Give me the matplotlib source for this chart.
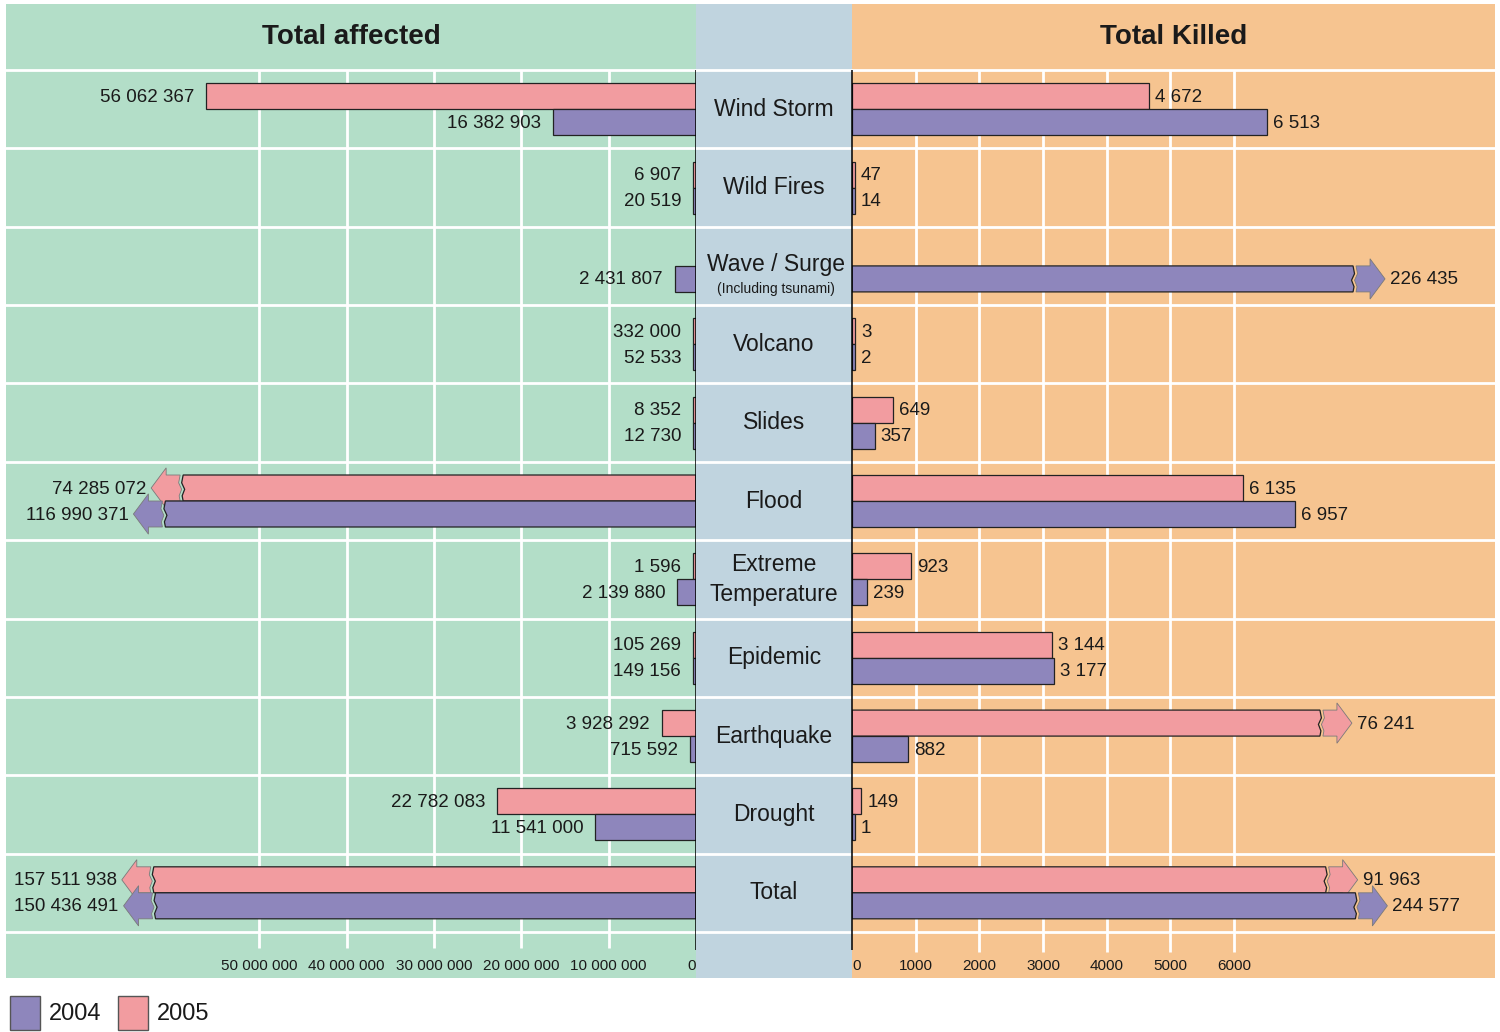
import numpy as np
import matplotlib
matplotlib.use('Agg')
import matplotlib.pyplot as plt
from matplotlib.patches import Polygon, Rectangle

# data (None = no value reported)
categories = ['Wind Storm', 'Wild Fires', 'Wave / Surge', 'Volcano', 'Slides', 'Flood',
              'Extreme\nTemperature', 'Epidemic', 'Earthquake', 'Drought', 'Total']
affected_2005 = [56062367, 6907, None, 332000, 8352, 74285072, 1596, 105269, 3928292, 22782083, 157511938]
affected_2004 = [16382903, 20519, 2431807, 52533, 12730, 116990371, 2139880, 149156, 715592, 11541000, 150436491]
killed_2005 = [4672, 47, None, 3, 649, 6135, 923, 3144, 76241, 149, 91963]
killed_2004 = [6513, 14, 226435, 2, 357, 6957, 239, 3177, 882, 1, 244577]

left_ticks = [10000000, 20000000, 30000000, 40000000, 50000000]
right_ticks = [1000, 2000, 3000, 4000, 5000, 6000]

plt.rcParams['font.family'] = ['Liberation Sans Narrow', 'DejaVu Sans Condensed',
                               'Liberation Sans', 'DejaVu Sans']

GREEN = '#b3dec8'
MID = '#c0d4df'
ORANGE = '#f6c490'
PINK = '#f29ca0'
PURPLE = '#8e86bc'
TXT = '#1a1a1a'

W, H = 1500, 1032
fig = plt.figure(figsize=(15, 10.32), dpi=100)

ROW_PX = (932 - 70) / 11.0
N = len(categories)
YTOP = -66 / ROW_PX
YBOT = N + 46 / ROW_PX
BH = 26 / ROW_PX


def px_axes(x0, x1, y0=4, y1=978):
    return fig.add_axes([x0 / W, 1 - y1 / H, (x1 - x0) / W, (y1 - y0) / H])


def fmt(v):
    return f'{v:,}'.replace(',', ' ')


ax_l = px_axes(6, 696)
ax_m = px_axes(696, 852)
ax_r = px_axes(852, 1495)

ax_l.set_xlim(79e6, 0)
ax_m.set_xlim(0, 1)
ax_r.set_xlim(0, 10100)

for ax, col in [(ax_l, GREEN), (ax_m, MID), (ax_r, ORANGE)]:
    ax.set_facecolor(col)
    ax.set_ylim(YBOT, YTOP)
    for s in ax.spines.values():
        s.set_visible(False)
    ax.set_xticks([])
    ax.set_yticks([])
    for i in range(N + 1):
        ax.axhline(i, color='white', lw=2, zorder=1)

ax_l.vlines(left_ticks, 0, 11.2, color='white', lw=2, zorder=1)
ax_r.vlines(right_ticks, 0, 11.25, color='white', lw=2, zorder=1)
# black borders of the middle band
ax_l.vlines([0], 0, 11.23, color='black', lw=1.1, zorder=6, clip_on=False)
ax_r.vlines([0], 0, 11.23, color='black', lw=1.1, zorder=6, clip_on=False)


def draw_side(ax, values, color, upper, npx, clip, side):
    ux = (ax.get_xlim()[0] + ax.get_xlim()[1]) / npx  # data units per pixel
    ha = 'right' if side == 'left' else 'left'
    gap = 12 if side == 'left' else 6
    for i, v in enumerate(values):
        if v is None:
            continue
        y0 = i + 0.5 - BH if upper else i + 0.5
        yc = y0 + BH / 2
        if v > clip['limit']:
            # bar too long: break it and add an arrow
            d = clip['start'] + clip['k'] * np.log10(v / clip['ref'])
            fy = np.array([0, 0.3, 0.55, 0.8, 1.0])
            fx = np.array([0, 1.5, -1.5, 1.0, 0]) * ux
            wave_y = y0 + fy * BH
            bar = [(0, y0)] + [(d + dx, yy) for dx, yy in zip(fx, wave_y)] + [(0, y0 + BH)]
            ax.add_patch(Polygon(bar, closed=True, fc=color, ec='#222222', lw=0.9, zorder=3))
            xs = d + 3 * ux
            xb = xs + 14 * ux
            tip = xs + 29 * ux
            hh = BH * 1.55
            arrow = [(xs + dx, yy) for dx, yy in zip(fx, wave_y)][::-1]
            arrow += [(xb, y0), (xb, yc - hh / 2), (tip, yc), (xb, yc + hh / 2), (xb, y0 + BH)]
            ax.add_patch(Polygon(arrow, closed=True, fc=color, ec='#7a7a7a', lw=0.6, zorder=3))
            lx = tip + 5 * ux
        else:
            d = max(v, 3 * ux)
            ax.add_patch(Rectangle((0, y0), d, BH, fc=color, ec='#222222', lw=0.9, zorder=3))
            lx = d + gap * ux
        ax.text(lx, yc + 1 / ROW_PX, fmt(v), ha=ha, va='center', fontsize=13.5, color=TXT, zorder=4)


clip_l = {'limit': 70e6, 'ref': 74e6, 'start': 58.7e6, 'k': 10.3e6}
clip_r = {'limit': 9000, 'ref': 76241, 'start': 7350, 'k': 1100}

draw_side(ax_l, affected_2005, PINK, True, 690, clip_l, 'left')
draw_side(ax_l, affected_2004, PURPLE, False, 690, clip_l, 'left')
draw_side(ax_r, killed_2005, PINK, True, 643, clip_r, 'right')
draw_side(ax_r, killed_2004, PURPLE, False, 643, clip_r, 'right')

# category names
for i, name in enumerate(categories):
    if name.startswith('Wave'):
        ax_m.text(0.51, i + 0.48, name, ha='center', va='center', fontsize=16.5, color=TXT)
        ax_m.text(0.51, i + 0.8, '(Including tsunami)', ha='center', va='center', fontsize=10,
                  color=TXT)
    else:
        ax_m.text(0.5, i + 0.5, name, ha='center', va='center', fontsize=16.5, color=TXT,
                  linespacing=1.4)

# titles
ty_title = -(70 - 37) / ROW_PX
ax_l.text(np.mean(ax_l.get_xlim()), ty_title, 'Total affected', ha='center', va='center',
          fontsize=20, fontweight='bold', color=TXT)
ax_r.text(np.mean(ax_r.get_xlim()), ty_title, 'Total Killed', ha='center', va='center',
          fontsize=20, fontweight='bold', color=TXT)

# tick labels
ty = N + 34 / ROW_PX
for t in left_ticks:
    ax_l.text(t, ty, fmt(t), ha='center', va='center', fontsize=11, color=TXT)
ax_l.text(0, ty, '0', ha='right', va='center', fontsize=11, color=TXT)
for t in right_ticks:
    ax_r.text(t, ty, str(t), ha='center', va='center', fontsize=11, color=TXT)
ax_r.text(10, ty, '0', ha='left', va='center', fontsize=11, color=TXT)

# legend
for x0, col, lab in [(10, PURPLE, '2004'), (118, PINK, '2005')]:
    fig.add_artist(Rectangle((x0 / W, 1 - 1030 / H), 30 / W, 34 / H, transform=fig.transFigure,
                             fc=col, ec='#555555', lw=1))
    fig.text((x0 + 39) / W, 1 - 1014 / H, lab, ha='left', va='center', fontsize=17, color=TXT)

plt.savefig('out.png', dpi=100)
